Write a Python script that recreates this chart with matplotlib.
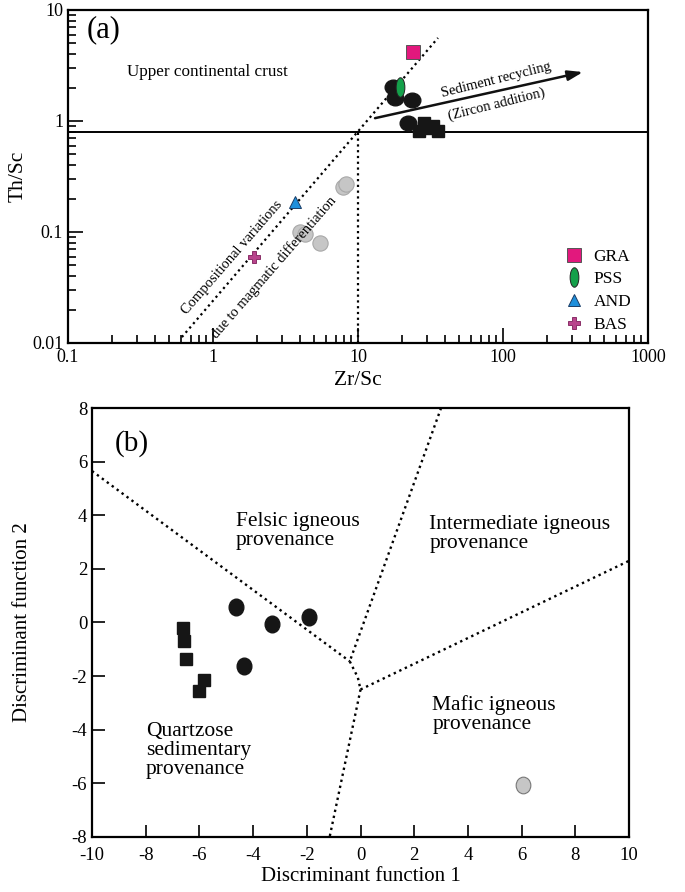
import numpy as np
import matplotlib
matplotlib.use('Agg')
import matplotlib.pyplot as plt
from matplotlib.path import Path
from matplotlib.transforms import Affine2D
from matplotlib.lines import Line2D

plt.rcParams['font.family'] = 'Liberation Serif'
plt.rcParams['axes.unicode_minus'] = False

# ---------------- (a) Th/Sc vs Zr/Sc ----------------
zr_sc_black = [17.4, 17.9, 23.6, 22.1]
th_sc_black = [2.02, 1.61, 1.55, 0.96]
zr_sc_sq = [28.5, 32.9, 26.4, 35.6, 30.4]
th_sc_sq = [0.96, 0.90, 0.81, 0.81, 0.86]
zr_sc_grey = [7.9, 8.26, 4.0, 4.3, 5.47]
th_sc_grey = [0.254, 0.27, 0.10, 0.095, 0.0796]

ref_names = ['GRA', 'PSS', 'AND', 'BAS']
ref_zr_sc = [23.9, 19.5, 3.68, 1.92]
ref_th_sc = [4.19, 2.02, 0.186, 0.0596]

# ---------------- (b) discriminant functions ----------------
df1_sq = [-6.62, -6.56, -6.51, -5.84, -6.0]
df2_sq = [-0.2, -0.70, -1.37, -2.15, -2.54]
df1_circ = [-4.65, -3.31, -1.93, -4.35]
df2_circ = [0.59, -0.04, 0.21, -1.63]
df1_grey = [6.05]
df2_grey = [-6.05]

# field boundaries (DF1, DF2)
bound_x = [[-10, -0.4], [3.0, -0.4], [-0.4, -0.1, 0.0], [0.0, 10], [0.0, -1.15]]
bound_y = [[5.65, -1.45], [8.0, -1.45], [-1.45, -2.05, -2.5], [-2.5, 2.3], [-2.5, -8.0]]

ellipse_tall = Path.unit_circle().transformed(Affine2D().scale(0.45, 1.0))
ellipse_wide = Path.unit_circle().transformed(Affine2D().scale(1.0, 0.88))
ellipse_b = Path.unit_circle().transformed(Affine2D().scale(0.88, 1.0))

fig = plt.figure(figsize=(6.85, 8.92), dpi=100)

ax = fig.add_axes([0.0993, 0.6155, 0.8467, 0.3733])
ax.set_xscale('log')
ax.set_yscale('log')
ax.set_xlim(0.1, 1000)
ax.set_ylim(0.01, 10)

dot = (0, (1, 1.6))
ax.plot([0.1, 1000], [0.8, 0.8], color='k', lw=1.4, zorder=1)
ax.plot([10, 10], [0.01, 0.8], color='k', lw=1.6, ls=dot, zorder=1)
ax.plot([0.61, 35.6], [0.0113, 5.6], color='k', lw=1.6, ls=dot, zorder=1)
ax.annotate('', xy=(356, 2.76), xytext=(13.1, 1.06),
            arrowprops=dict(arrowstyle='-|>,head_length=0.9,head_width=0.3',
                            color='#111111', lw=1.8, shrinkA=0, shrinkB=0))

ax.plot(zr_sc_grey, th_sc_grey, ls='none', marker='o', ms=11,
        mfc='#c6c6c6', mec='#a8a8a8', mew=0.8, zorder=3)
ax.plot(zr_sc_black, th_sc_black, ls='none', marker=ellipse_wide, ms=12,
        mfc='#161616', mec='#161616', zorder=3)
ax.plot(zr_sc_sq, th_sc_sq, ls='none', marker='s', ms=9,
        mfc='#161616', mec='#161616', zorder=3)

ref_style = [dict(marker='s', ms=10, mfc='#e2187d', mec='#555555'),
             dict(marker=ellipse_tall, ms=14, mfc='#14a04a', mec='#222222'),
             dict(marker='^', ms=9, mfc='#1f8fdb', mec='#1b3d66'),
             dict(marker='P', ms=8, mfc='#b8448c', mec='#8a2f68')]
handles = []
for name, xv, yv, st in zip(ref_names, ref_zr_sc, ref_th_sc, ref_style):
    ax.plot([xv], [yv], ls='none', mew=0.7, zorder=4, **st)
    handles.append(Line2D([], [], ls='none', mew=0.7, label=name, **st))
ax.legend(handles=handles, loc='upper left', bbox_to_anchor=(0.843, 0.31),
          frameon=False, fontsize=12.5, handlelength=1.0, handletextpad=0.6,
          labelspacing=0.38, borderpad=0)

ax.text(0.255, 2.76, 'Upper continental crust', fontsize=12.3, va='center')
ax.text(0.135, 6.6, '(a)', fontsize=22, va='center')
ax.text(89.5, 2.34, 'Sediment recycling', fontsize=10.5, rotation=14,
        ha='center', va='center', rotation_mode='anchor')
ax.text(91, 1.42, '(Zircon addition)', fontsize=10.5, rotation=14,
        ha='center', va='center', rotation_mode='anchor')
ax.text(1.35, 0.0583, 'Compositional variations', fontsize=10.5, rotation=49,
        ha='center', va='center', rotation_mode='anchor')
ax.text(2.62, 0.0475, 'due to magmatic differentiation', fontsize=10.5,
        rotation=49, ha='center', va='center', rotation_mode='anchor')

ax.set_xticks([0.1, 1, 10, 100, 1000])
ax.set_xticklabels(['0.1', '1', '10', '100', '1000'])
ax.set_yticks([0.01, 0.1, 1, 10])
ax.set_yticklabels(['0.01', '0.1', '1', '10'])
ax.tick_params(which='both', direction='in', labelsize=13, width=1.2)
ax.tick_params(which='major', length=11)
ax.tick_params(which='minor', length=6)
ax.tick_params(axis='x', which='both', pad=4)
for s in ax.spines.values():
    s.set_linewidth(1.6)
ax.set_xlabel('Zr/Sc', fontsize=15.5)
ax.set_ylabel('Th/Sc', fontsize=15.5)
ax.xaxis.set_label_coords(0.5, -0.085)
ax.yaxis.set_label_coords(-0.07, 0.5)

# ---------------- panel (b) ----------------
bx = fig.add_axes([0.1343, 0.0617, 0.784, 0.4809])
bx.set_xlim(-10, 10)
bx.set_ylim(-8, 8)
for xs, ys in zip(bound_x, bound_y):
    bx.plot(xs, ys, color='k', lw=1.7, ls=dot, zorder=1)

bx.plot(df1_sq, df2_sq, ls='none', marker='s', ms=8.5,
        mfc='#161616', mec='#161616', zorder=3)
bx.plot(df1_circ, df2_circ, ls='none', marker=ellipse_b, ms=12,
        mfc='#161616', mec='#161616', zorder=3)
bx.plot(df1_grey, df2_grey, ls='none', marker=ellipse_b, ms=12,
        mfc='#c6c6c6', mec='#777777', mew=0.8, zorder=3)

fs = 15.5
bx.text(-9.15, 6.69, '(b)', fontsize=21, va='center')
bx.text(-4.65, 3.4, 'Felsic igneous\nprovenance', fontsize=fs,
        va='center', linespacing=1.0)
bx.text(2.56, 3.3, 'Intermediate igneous\nprovenance', fontsize=fs,
        va='center', linespacing=1.0)
bx.text(2.68, -3.43, 'Mafic igneous\nprovenance', fontsize=fs,
        va='center', linespacing=1.0)
bx.text(-7.99, -4.79, 'Quartzose\nsedimentary\nprovenance', fontsize=fs,
        va='center', linespacing=1.0)

bx.set_xticks(np.arange(-10, 11, 2))
bx.set_yticks(np.arange(-8, 9, 2))
bx.tick_params(direction='in', length=9, width=1.2, labelsize=13.5)
bx.tick_params(axis='x', pad=7)
for s in bx.spines.values():
    s.set_linewidth(1.6)
bx.set_xlabel('Discriminant function 1', fontsize=15)
bx.set_ylabel('Discriminant function 2', fontsize=15)
bx.xaxis.set_label_coords(0.5, -0.07)
bx.yaxis.set_label_coords(-0.112, 0.5)

fig.savefig('out.png', dpi=100)
plt.close(fig)
